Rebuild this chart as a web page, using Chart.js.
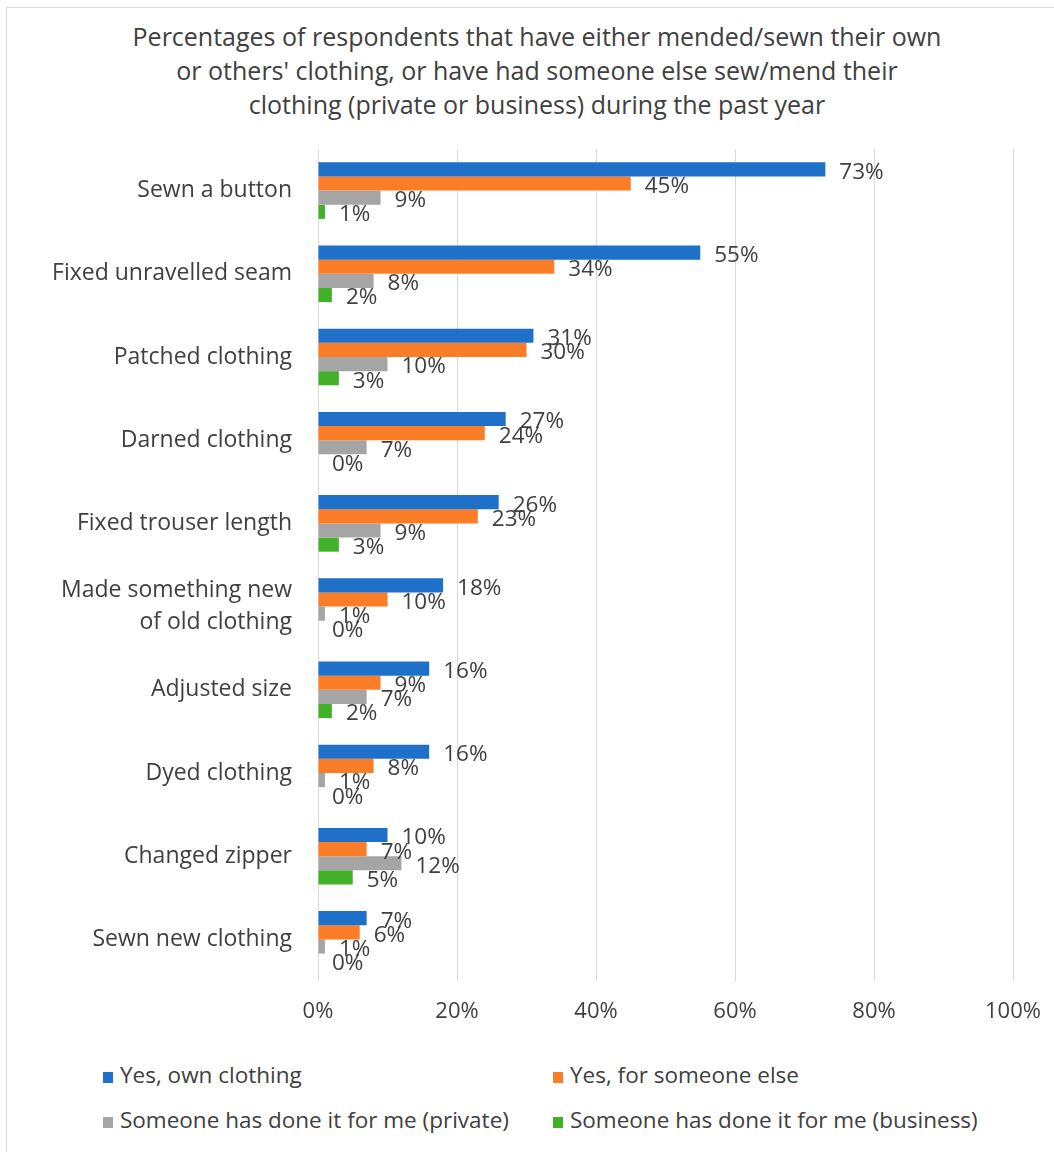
<!DOCTYPE html>
<html>
<head>
<meta charset="utf-8">
<script src="https://cdn.jsdelivr.net/npm/chart.js@4.4.1/dist/chart.umd.min.js"></script>
<style>
  html, body { margin: 0; padding: 0; background: #fff; overflow: hidden; }
  body { width: 1054px; height: 1152px; position: relative; }
  .frame {
    position: absolute; left: 6px; top: 7px;
    width: 1062px; height: 1160px;
    border: 1px solid #d9d9d9; box-sizing: border-box;
  }
  .title {
    position: absolute; left: 0; top: 11px; width: 1060px;
    text-align: center; color: #404040;
    font-family: "Open Sans", sans-serif; font-size: 25px; line-height: 34px;
  }
  .plot { position: absolute; left: 0; top: 0; width: 1060px; height: 1030px; }
  .legend {
    position: absolute; left: 0; top: 0; width: 100%;
    font-family: "Open Sans", sans-serif; font-size: 22.5px; color: #404040;
  }
  .legend .item { position: absolute; white-space: nowrap; line-height: 28px; }
  .legend .box { display: inline-block; width: 10px; height: 11px; margin-right: 7px; vertical-align: 0px; }
</style>
</head>
<body>
<div class="frame">
  <div class="title" id="title"></div>
  <div class="plot"><canvas id="chart"></canvas></div>
  <div class="legend" id="legend"></div>
</div>
<script>
(function () {
  "use strict";

  /* ---------- data ---------- */
  const categories = [
    "Sewn a button",
    "Fixed unravelled seam",
    "Patched clothing",
    "Darned clothing",
    "Fixed trouser length",
    ["Made something new", "of old clothing"],
    "Adjusted size",
    "Dyed clothing",
    "Changed zipper",
    "Sewn new clothing",
  ];
  const ownClothing     = [73, 55, 31, 27, 26, 18, 16, 16, 10, 7];
  const forSomeoneElse  = [45, 34, 30, 24, 23, 10, 9, 8, 7, 6];
  const donePrivate     = [9, 8, 10, 7, 9, 1, 7, 1, 12, 1];
  const doneBusiness    = [1, 2, 3, 0, 3, 0, 2, 0, 5, 0];
  const xTicks = [0, 20, 40, 60, 80, 100];

  const seriesNames = [
    "Yes, own clothing",
    "Yes, for someone else",
    "Someone has done it for me (private)",
    "Someone has done it for me (business)",
  ];
  const COLORS = ["#1f70c8", "#fb7d27", "#a5a5a5", "#43b02a"];
  const TEXT = "#404040";
  const GRID = "#d9d9d9";
  const FONT = "'Open Sans', sans-serif";

  const title = [
    "Percentages of respondents that have either mended/sewn their own",
    "or others' clothing, or have had someone else sew/mend their",
    "clothing (private or business) during the past year",
  ];

  // title sits above the canvas, centred on the frame
  const titleEl = document.getElementById("title");
  title.forEach((line) => {
    const d = document.createElement("div");
    d.textContent = line;
    titleEl.appendChild(d);
  });

  // value labels to the right of each bar end
  const barLabels = {
    id: "barLabels",
    afterDatasetsDraw(chart) {
      const { ctx } = chart;
      ctx.save();
      ctx.font = "22.5px " + FONT;
      ctx.fillStyle = TEXT;
      ctx.textAlign = "left";
      ctx.textBaseline = "middle";
      chart.data.datasets.forEach((ds, di) => {
        chart.getDatasetMeta(di).data.forEach((bar, i) => {
          ctx.fillText(ds.data[i] + "%", bar.x + 14, bar.y + 3);
        });
      });
      ctx.restore();
    },
  };

  const ctx = document.getElementById("chart").getContext("2d");
  const chart = new Chart(ctx, {
    type: "bar",
    data: {
      labels: categories,
      datasets: [ownClothing, forSomeoneElse, donePrivate, doneBusiness].map((d, i) => ({
        label: seriesNames[i],
        data: d,
        backgroundColor: COLORS[i],
        borderWidth: 0,
        categoryPercentage: 0.68,
        barPercentage: 1,
      })),
    },
    options: {
      indexAxis: "y",
      responsive: true,
      maintainAspectRatio: false,
      animation: false,
      layout: { padding: { top: 141, right: 54, bottom: 7 } },
      plugins: {
        legend: { display: false },
        tooltip: { enabled: false },
      },
      scales: {
        x: {
          min: 0,
          max: 100,
          afterBuildTicks(scale) {
            scale.ticks = xTicks.map((v) => ({ value: v }));
          },
          afterFit(scale) { scale.height = 50; },
          grid: { color: GRID, lineWidth: 1, drawTicks: false },
          border: { display: false },
          ticks: {
            color: TEXT,
            padding: 18,
            font: { family: FONT, size: 22 },
            callback: (v) => v + "%",
          },
        },
        y: {
          afterFit(scale) { scale.width = 311; },
          grid: { display: false, drawTicks: false },
          border: { display: false },
          ticks: {
            color: TEXT,
            padding: 26,
            font: { family: FONT, size: 23, lineHeight: 32 / 23 },
          },
        },
      },
    },
    plugins: [barLabels],
  });

  /* ---------- legend (two columns) ---------- */
  const legendEl = document.getElementById("legend");
  const legendPos = [[96, 1053], [546, 1053], [96, 1098], [546, 1098]];
  chart.data.datasets.forEach((ds, i) => {
    const item = document.createElement("div");
    item.className = "item";
    item.style.left = legendPos[i][0] + "px";
    item.style.top = legendPos[i][1] + "px";
    item.innerHTML = '<span class="box" style="background:' + ds.backgroundColor + '"></span>' + ds.label;
    legendEl.appendChild(item);
  });
})();
</script>
</body>
</html>
